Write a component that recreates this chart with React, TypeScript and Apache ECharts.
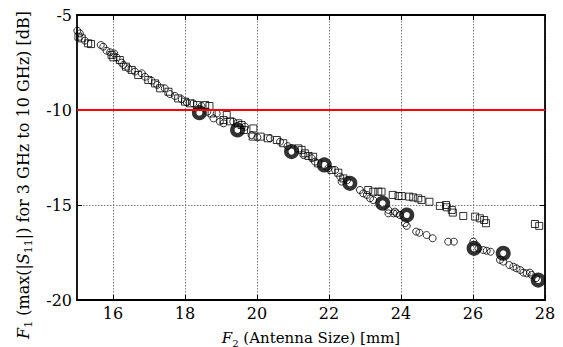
import React, { useEffect, useRef } from 'react';
import * as echarts from 'echarts';

const xTicks = [16, 18, 20, 22, 24, 26, 28];
const xRange = [15, 28];
const yRange = [-20, -5];
const yStep = 5;
const threshold = -10;

const circles: [number, number][] = [
  [15.01, -5.83], [15.08, -5.97], [15.22, -6.35], [15.66, -6.58], [15.73, -6.67], [15.82, -6.88],
  [15.92, -6.96], [16.03, -7.02], [16.1, -7.23], [16.24, -7.51], [16.29, -7.63], [16.43, -7.81],
  [16.61, -7.98], [16.8, -8.07], [16.89, -8.25], [17.07, -8.46], [17.23, -8.68], [17.44, -8.86],
  [17.58, -9.16], [17.72, -9.26], [17.91, -9.44], [18.05, -9.6], [18.23, -9.65], [18.46, -9.79],
  [18.62, -10.09], [18.79, -10.44], [18.88, -10.18], [18.97, -10.61], [19.07, -10.7], [19.34, -10.61],
  [19.67, -10.88], [19.85, -11.32], [20.01, -11.44], [20.36, -11.49], [20.64, -11.67], [20.85, -11.9],
  [21.29, -12.37], [21.52, -12.54], [21.61, -12.72], [21.98, -13.07], [22.17, -13.16], [22.31, -13.51],
  [22.35, -13.77], [22.5, -13.7], [22.86, -14.21], [22.95, -14.39], [23.05, -14.47], [23.14, -14.65],
  [23.23, -14.74], [23.65, -15.26], [23.83, -15.35], [23.65, -15.44], [23.79, -15.44], [23.88, -15.44],
  [23.97, -15.53], [24.11, -15.96], [24.16, -16.1], [24.42, -16.4], [24.51, -16.46], [24.71, -16.58],
  [24.88, -16.75], [25.31, -16.93], [25.47, -16.93], [26.01, -16.93], [26.15, -17.28], [26.29, -17.37],
  [26.38, -17.41], [26.49, -17.46], [26.75, -17.89], [26.84, -17.98], [27.01, -18.16], [27.12, -18.25],
  [27.21, -18.33], [27.31, -18.42], [27.4, -18.56], [27.49, -18.6], [27.58, -18.56], [27.63, -18.68],
  [27.75, -18.85],
];

const squares: [number, number][] = [
  [15.04, -6.14], [15.13, -6.23], [15.31, -6.49], [15.39, -6.53], [15.96, -7.1], [16.01, -7.23],
  [16.19, -7.37], [16.36, -7.72], [16.52, -7.89], [16.7, -8.16], [16.98, -8.42], [17.17, -8.6],
  [17.31, -8.86], [17.54, -9.04], [17.81, -9.39], [18.0, -9.56], [18.14, -9.65], [18.34, -9.74],
  [18.56, -9.74], [18.68, -9.79], [18.74, -10.18], [19.07, -10.53], [19.16, -10.26], [19.25, -10.6],
  [19.48, -10.7], [19.57, -10.79], [19.64, -11.05], [19.9, -10.97], [19.88, -11.4], [20.1, -11.4],
  [20.3, -11.49], [20.55, -11.58], [20.73, -11.75], [21.15, -12.02], [21.24, -12.1], [21.33, -12.28],
  [21.43, -12.42], [21.56, -12.46], [21.7, -12.81], [22.07, -13.16], [22.26, -13.3], [22.4, -13.6],
  [23.09, -14.21], [23.23, -14.3], [23.37, -14.3], [23.46, -14.3], [23.77, -14.47], [23.93, -14.53],
  [24.02, -14.53], [24.23, -14.56], [24.34, -14.6], [24.48, -14.65], [24.57, -14.74], [24.79, -14.83],
  [25.08, -15.05], [25.25, -15.0], [25.27, -15.12], [25.41, -15.26], [25.44, -15.4], [25.73, -15.58],
  [26.06, -15.61], [26.19, -15.7], [26.31, -15.79], [26.36, -15.96], [27.72, -16.0], [27.84, -16.1],
];

const pareto: [number, number][] = [
  [18.4, -10.14], [19.46, -11.05], [20.96, -12.19], [21.87, -12.89], [22.58, -13.86],
  [23.49, -14.91], [24.16, -15.53], [26.03, -17.28], [26.84, -17.54], [27.81, -18.95],
];

const FONT = 'DejaVu Serif';
const FS = 16;

const makeRich = (fs: number, sub: number) => ({
  n: { fontFamily: FONT, fontSize: fs, lineHeight: fs + 6, verticalAlign: 'middle', color: '#000', fill: '#000' },
  i: { fontFamily: FONT, fontSize: fs, lineHeight: fs + 6, verticalAlign: 'middle', fontStyle: 'italic', color: '#000', fill: '#000' },
  sub: { fontFamily: FONT, fontSize: sub, lineHeight: sub, verticalAlign: 'bottom', color: '#000', fill: '#000' },
});

export default function App() {
  const ref = useRef<HTMLDivElement>(null);
  useEffect(() => {
    const chart = echarts.init(ref.current!, null, { renderer: 'svg' });
    const axisLine = { show: true, onZero: false, lineStyle: { color: '#000', width: 1.8 } };
    const tickStyle = { color: '#000', width: 1 };
    const gridLine = { show: true, lineStyle: { color: '#808080', type: [1.5, 1.5], width: 1 } };
    chart.setOption({
      animation: false,
      backgroundColor: '#fff',
      textStyle: { fontFamily: FONT },
      grid: { left: 77, top: 15, right: 18, bottom: 47, outerBoundsMode: 'none' },
      xAxis: [
        {
          type: 'value', min: xRange[0], max: xRange[1], position: 'bottom',
          axisLine,
          axisTick: { show: true, inside: true, length: 5, customValues: xTicks, lineStyle: tickStyle },
          axisLabel: { customValues: xTicks, margin: 5, color: '#000', fontFamily: FONT, fontSize: FS },
          splitLine: gridLine,
          name: '{i|F}{sub|2}{n| (Antenna Size) [mm]}',
          nameLocation: 'middle', nameGap: 27,
          nameTextStyle: { fontFamily: FONT, fontSize: 15, rich: makeRich(15, 10) },
        },
        {
          type: 'value', min: xRange[0], max: xRange[1], position: 'top',
          axisLine,
          axisTick: { show: true, inside: true, length: 5, customValues: xTicks, lineStyle: tickStyle },
          axisLabel: { show: false },
          splitLine: { show: false },
        },
      ],
      yAxis: [
        {
          type: 'value', min: yRange[0], max: yRange[1], interval: yStep, position: 'left',
          axisLine,
          axisTick: { show: true, inside: true, length: 5, lineStyle: tickStyle },
          axisLabel: { margin: 5, color: '#000', fontFamily: FONT, fontSize: FS, formatter: (v: number) => String(v) },
          splitLine: gridLine,
        },
        {
          type: 'value', min: yRange[0], max: yRange[1], interval: yStep, position: 'right',
          axisLine,
          axisTick: { show: true, inside: true, length: 5, lineStyle: tickStyle },
          axisLabel: { show: false },
          splitLine: { show: false },
        },
      ],
      graphic: [
        {
          type: 'text', x: 23, y: 175, rotation: Math.PI / 2,
          style: {
            text: '{i|F}{sub|1}{n| (max(|}{i|S}{sub|11}{n||) for 3 GHz to 10 GHz) [dB]}',
            rich: makeRich(16, 11),
            align: 'center', verticalAlign: 'middle',
            fontFamily: FONT, fontSize: FS, fill: '#000',
          },
        },
      ],
      series: [
        {
          type: 'scatter', name: 'circles', data: circles, symbol: 'circle', symbolSize: 7,
          itemStyle: { color: 'transparent', borderColor: '#000', borderWidth: 1 },
          emphasis: { disabled: true }, z: 2,
        },
        {
          type: 'scatter', name: 'squares', data: squares, symbol: 'rect', symbolSize: 7,
          itemStyle: { color: 'transparent', borderColor: '#000', borderWidth: 1 },
          emphasis: { disabled: true }, z: 2,
        },
        {
          type: 'scatter', name: 'pareto', data: pareto, symbol: 'circle', symbolSize: 10.5,
          itemStyle: { color: 'transparent', borderColor: '#000', borderWidth: 4.5 },
          emphasis: { disabled: true }, z: 3,
        },
        {
          type: 'line', name: 'threshold', data: [], z: 5,
          markLine: {
            silent: true, symbol: ['none', 'none'], label: { show: false },
            lineStyle: { color: '#ff0000', width: 2, type: 'solid' },
            data: [{ yAxis: threshold }],
          },
        },
      ],
    });
    return () => chart.dispose();
  }, []);
  return (
    <div
      ref={ref}
      style={{ position: 'fixed', left: 0, top: 0, width: 563, height: 347, background: '#fff' }}
    />
  );
}
